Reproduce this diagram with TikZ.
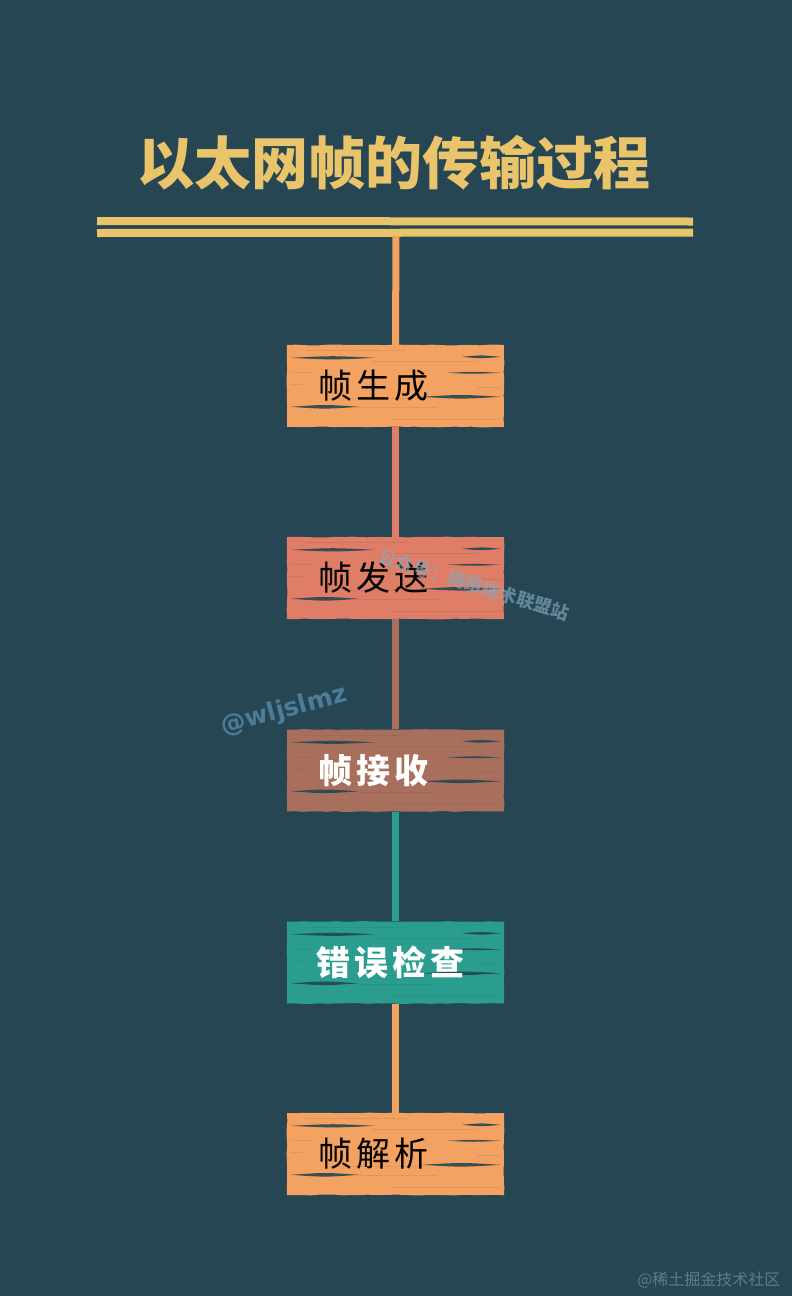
\documentclass[tikz,border=0pt]{standalone}
\usepackage{fontspec}
\usetikzlibrary{decorations.pathmorphing}
\newfontfamily\cjk{Noto Sans CJK SC}
\newfontfamily\cjksp[LetterSpace=12]{Noto Sans CJK SC}
\newfontfamily\wmfont{DejaVu Sans}
\definecolor{bgc}{HTML}{264653}
\definecolor{gold}{HTML}{E9C46A}
\definecolor{orng}{HTML}{F4A261}
\definecolor{salm}{HTML}{E07D66}
\definecolor{brwn}{HTML}{A8705C}
\definecolor{teal}{HTML}{2A9D8F}
\definecolor{wmblue}{HTML}{4C7C98}
\definecolor{wmlight}{HTML}{86A9C0}
\definecolor{wmgrey}{HTML}{5F7C88}
\tikzset{
  woodbox/.style={rectangle, minimum width=217pt, minimum height=82pt, inner sep=0pt,
    decorate, decoration={random steps, segment length=8pt, amplitude=0.4pt}},
  conn/.style={line width=7pt},
  boxtext/.style={anchor=west, inner sep=0pt, font=\cjksp\fontsize{34}{34}\selectfont},
  goldbar/.style={gold, line width=8pt},
}
\newcommand\grain[4]{\fill[bgc, opacity=0.9] (#1,#3) .. controls ({(#1+#2)/2},{#3-1.4*#4}) .. (#2,#3) .. controls ({(#1+#2)/2},{#3+1.4*#4}) .. (#1,#3) -- cycle;}
\newcommand\woodgrain[1]{%
  \begin{scope}[shift={(#1.north west)}]
    \grain{18}{120}{6}{0.3}
    \grain{4}{88}{13}{1.5}
    \grain{175}{214}{12}{1.3}
    \grain{85}{190}{17}{0.35}
    \grain{4}{26}{28}{0.7}
    \grain{160}{214}{28}{0.9}
    \grain{4}{16}{40}{0.5}
    \grain{190}{214}{43}{0.5}
    \grain{135}{214}{52}{1.7}
    \grain{55}{140}{54}{0.35}
    \grain{4}{72}{62}{1.7}
    \grain{70}{150}{63}{0.4}
    \grain{105}{214}{75}{0.6}
  \end{scope}}
\pgfmathsetseed{7}
\begin{document}
\begin{tikzpicture}[x=1pt,y=-1pt]
\fill[bgc] (0,0) rectangle (792,1296);
\useasboundingbox (0,0) rectangle (792,1296);
% title
\node[text=gold, font=\cjk\bfseries\fontsize{57}{57}\selectfont] (title) at (394,163) {以太网帧的传输过程};
% double bar
\draw[goldbar] (97,221) -- (693,221.5);
\draw[goldbar] (97,233) -- (693,232.5);
\coordinate (top) at (396,236);
% boxes
\node[woodbox, fill=orng] (b1) at (395.5,386) {};
\node[woodbox, fill=salm] (b2) at (395.5,578) {};
\node[woodbox, fill=brwn] (b3) at (395.5,770.5) {};
\node[woodbox, fill=teal] (b4) at (395.5,962.5) {};
\node[woodbox, fill=orng] (b5) at (395.5,1154) {};
% connectors
\draw[conn, orng] (top) -- (b1.north);
\draw[conn, salm] (b1.south) -- (b2.north);
\draw[conn, brwn] (b2.south) -- (b3.north);
\draw[conn, teal] (b3.south) -- (b4.north);
\draw[conn, orng] (b4.south) -- (b5.north);
% grain
\woodgrain{b1}
\woodgrain{b2}
\woodgrain{b3}
\woodgrain{b4}
\woodgrain{b5}
% texts
\node[boxtext, text=black] (t1) at (318,386) {帧生成};
\node[boxtext, text=black] (t2) at (318,578) {帧发送};
\node[boxtext, text=white] (t3) at (318,770.5) {\bfseries 帧接收};
\node[boxtext, text=white] (t4) at (316,962.5) {\bfseries 错误检查};
\node[boxtext, text=black] (t5) at (318,1154) {帧解析};
% watermarks
\node[rotate=15, text=wmblue, font=\wmfont\bfseries\fontsize{25}{25}\selectfont] (wm1) at (284,711) {@wljslmz};
\node[rotate=-17, text=wmlight, opacity=0.65, font=\cjk\bfseries\fontsize{18}{18}\selectfont] (wm2) at (474,585) {公众号：网络技术联盟站};
\node[anchor=east, text=wmgrey, font=\cjk\fontsize{16}{16}\selectfont] (wm3) at (784,1280) {@稀土掘金技术社区};
\end{tikzpicture}
\end{document}
